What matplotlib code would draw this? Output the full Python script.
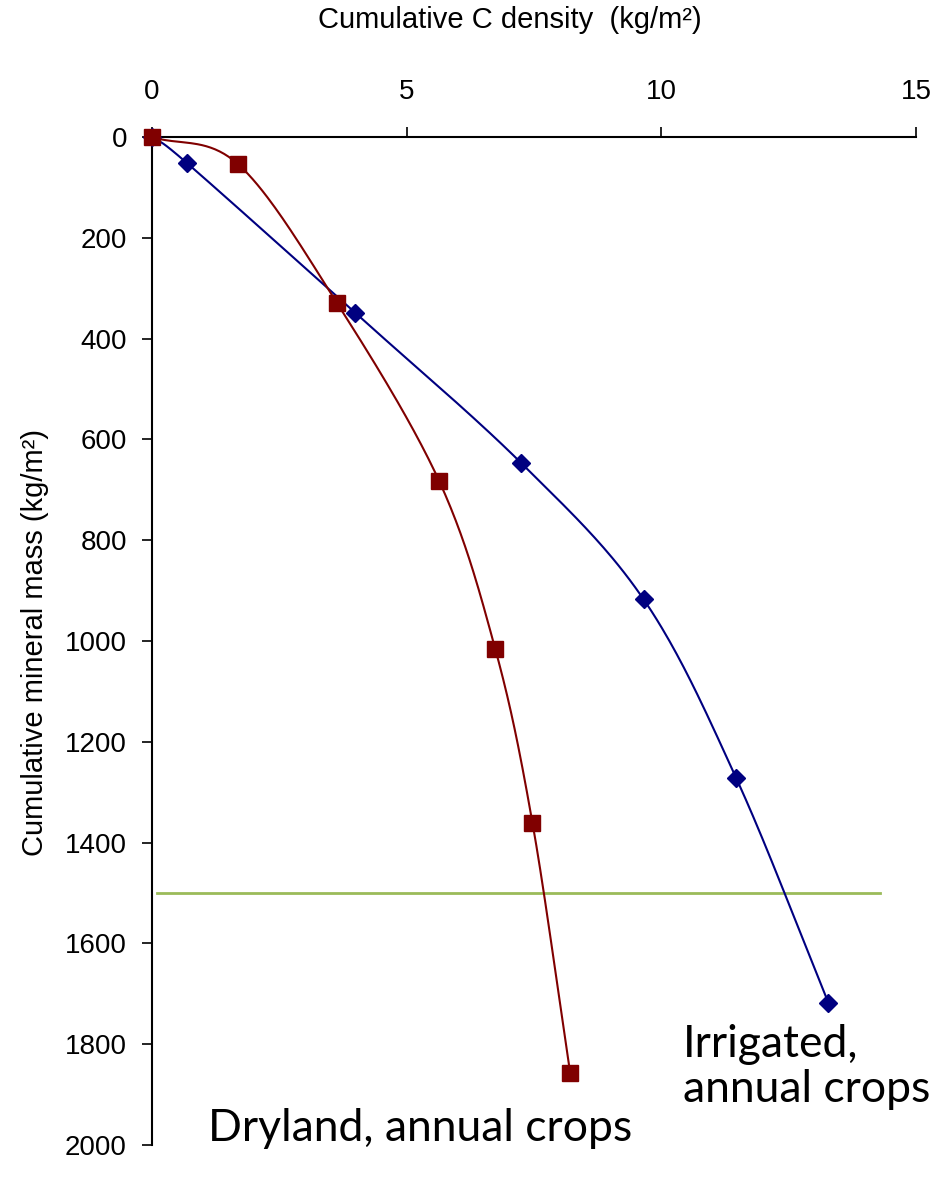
import numpy as np
import matplotlib
matplotlib.use("Agg")
import matplotlib.pyplot as plt

# Data
irrigated_c = [0.0, 0.69, 3.99, 7.25, 9.65, 11.47, 13.28]
irrigated_mass = [0, 52, 349, 647, 917, 1272, 1718]
dryland_c = [0.0, 1.69, 3.63, 5.64, 6.74, 7.47, 8.21]
dryland_mass = [0, 54, 329, 683, 1016, 1361, 1857]
threshold_mass = 1500
threshold_c = [0.1, 14.3]
x_ticks = [0, 5, 10, 15]
y_ticks = [0, 200, 400, 600, 800, 1000, 1200, 1400, 1600, 1800, 2000]

XMAX, YMAX = 15, 2000
W_PX, H_PX = 764, 1008


def smooth(xs, ys, n=40):
    # Catmull-Rom in screen-proportional coordinates (like Excel's smoothed line)
    px = np.array(xs) / XMAX * W_PX
    py = np.array(ys) / YMAX * H_PX
    P = np.column_stack([px, py])
    P = np.vstack([P[0] - (P[1] - P[0]), P, P[-1] + (P[-1] - P[-2])])
    out = []
    for i in range(1, len(P) - 2):
        p0, p1, p2, p3 = P[i - 1], P[i], P[i + 1], P[i + 2]
        t = np.linspace(0, 1, n)[:, None]
        seg = 0.5 * ((2 * p1) + (-p0 + p2) * t + (2 * p0 - 5 * p1 + 4 * p2 - p3) * t ** 2
                     + (-p0 + 3 * p1 - 3 * p2 + p3) * t ** 3)
        out.append(seg)
    out = np.vstack(out)
    return out[:, 0] / W_PX * XMAX, out[:, 1] / H_PX * YMAX


fig = plt.figure(figsize=(9.43, 11.82), dpi=100)
ax = fig.add_axes([152 / 943, 1 - 1145 / 1182, 764 / 943, 1008 / 1182])

blue = "#000080"
red = "#800000"
green = "#9BBB59"

ax.plot(threshold_c, [threshold_mass, threshold_mass], color=green, lw=2, zorder=1)

sx, sy = smooth(irrigated_c, irrigated_mass)
ax.plot(sx, sy, color=blue, lw=1.5, zorder=2)
ax.plot(irrigated_c, irrigated_mass, ls="none", marker="D", ms=9.5, color=blue, zorder=3,
        clip_on=False)

sx, sy = smooth(dryland_c, dryland_mass)
ax.plot(sx, sy, color=red, lw=1.5, zorder=2)
ax.plot(dryland_c, dryland_mass, ls="none", marker="s", ms=11, color=red, zorder=4,
        clip_on=False)

ax.set_xlim(0, XMAX)
ax.set_ylim(YMAX, 0)
ax.xaxis.tick_top()
ax.set_xticks(x_ticks)
ax.set_yticks(y_ticks)
ax.spines["right"].set_visible(False)
ax.spines["bottom"].set_visible(False)
ax.spines["top"].set_linewidth(1.5)
ax.spines["left"].set_linewidth(1.5)
ax.tick_params(axis="both", direction="out", length=7, width=1.2, labelsize=20,
               colors="black")
ax.tick_params(axis="x", pad=16)
ax.tick_params(axis="y", pad=11)
for lab in ax.get_xticklabels() + ax.get_yticklabels():
    lab.set_fontfamily("Liberation Sans")

fig.text(510 / 943, 1 - 20 / 1182, "Cumulative C density  (kg/m²)", ha="center", va="center",
         fontsize=21, family="Liberation Sans")
fig.text(35 / 943, 1 - 642 / 1182, "Cumulative mineral mass (kg/m²)", ha="center", va="center",
         rotation=90, fontsize=21, family="Liberation Sans")

fig.text(683 / 943, 1 - 1057 / 1182, "Irrigated,", ha="left", va="baseline", fontsize=32,
         family="Lato")
fig.text(683 / 943, 1 - 1102 / 1182, "annual crops", ha="left", va="baseline", fontsize=32,
         family="Lato")
fig.text(208 / 943, 1 - 1141 / 1182, "Dryland, annual crops", ha="left", va="baseline", fontsize=32,
         family="Lato")

fig.savefig("out.png", dpi=100)
